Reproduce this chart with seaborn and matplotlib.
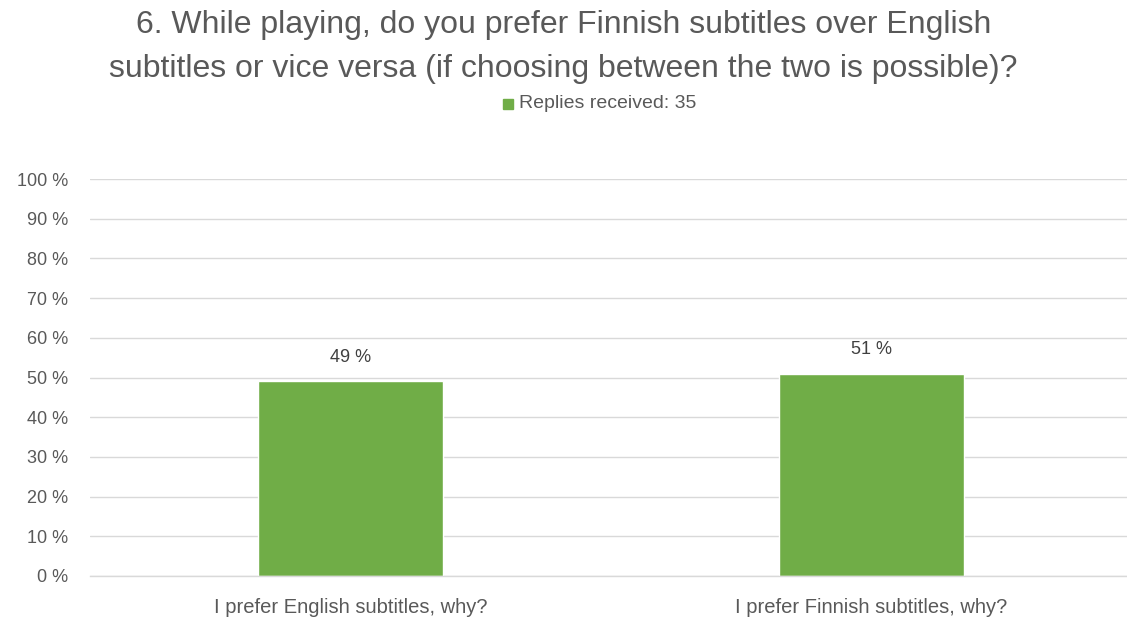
import matplotlib
matplotlib.use("Agg")
import matplotlib.pyplot as plt
from matplotlib.patches import Rectangle
import seaborn as sns
import pandas as pd

categories = ["I prefer English subtitles, why?", "I prefer Finnish subtitles, why?"]
shares = [49, 51]
series_name = "Replies received: 35"
title = ("6. While playing, do you prefer Finnish subtitles over English\n"
         "subtitles or vice versa (if choosing between the two is possible)?")
y_ticks = list(range(0, 101, 10))

df = pd.DataFrame({"category": categories, "share": shares, "series": series_name})

sns.set_theme(style="white")
plt.rcParams["font.family"] = ["Liberation Sans", "DejaVu Sans"]

GREEN = "#70ad47"
TEXT = "#595959"
GRID = "#d9d9d9"

fig = plt.figure(figsize=(11.27, 6.2), dpi=100)
ax = fig.add_axes([90 / 1127, 1 - 576 / 620, 1042 / 1127, 397 / 620])

sns.barplot(data=df, x="category", y="share", hue="series", palette=[GREEN],
            width=0.357, ax=ax, legend=False, saturation=1)

ax.set_xlim(-0.5, 1.5)
ax.set_ylim(0, 100)
ax.set_yticks(y_ticks)
ax.set_yticklabels([f"{t} %" for t in y_ticks], color=TEXT, fontsize=13)
ax.set_xticks(range(len(categories)))
ax.set_xticklabels(categories, color=TEXT, fontsize=14.5)
ax.set_xticks([-0.5, 0.5, 1.5], minor=True)
ax.tick_params(axis="x", which="major", length=0, pad=16)
ax.tick_params(axis="x", which="minor", length=5, width=1, color=GRID, direction="out")
ax.tick_params(axis="y", length=0, pad=16)
ax.set_xlabel("")
ax.set_ylabel("")

ax.yaxis.grid(True, color=GRID, linewidth=1)
ax.set_axisbelow(True)
for side in ["left", "right", "top"]:
    ax.spines[side].set_visible(False)
ax.spines["bottom"].set_color(GRID)
ax.spines["bottom"].set_linewidth(1)

for container in ax.containers:
    ax.bar_label(container, labels=[f"{v} %" for v in shares], padding=11,
                 color="#404040", fontsize=13)

fig.text(0.5, 1 - 47 / 620, title, ha="center", va="center", color=TEXT,
         fontsize=23, linespacing=1.6)

# legend entry below the title
fig.patches.append(Rectangle((503 / 1127, 1 - 109 / 620), 10 / 1127, 10 / 620,
                             transform=fig.transFigure, color=GREEN, figure=fig))
fig.text(519 / 1127, 1 - 103 / 620, series_name, ha="left", va="center",
         color=TEXT, fontsize=14)

fig.savefig("out.png", dpi=100, facecolor="white")
